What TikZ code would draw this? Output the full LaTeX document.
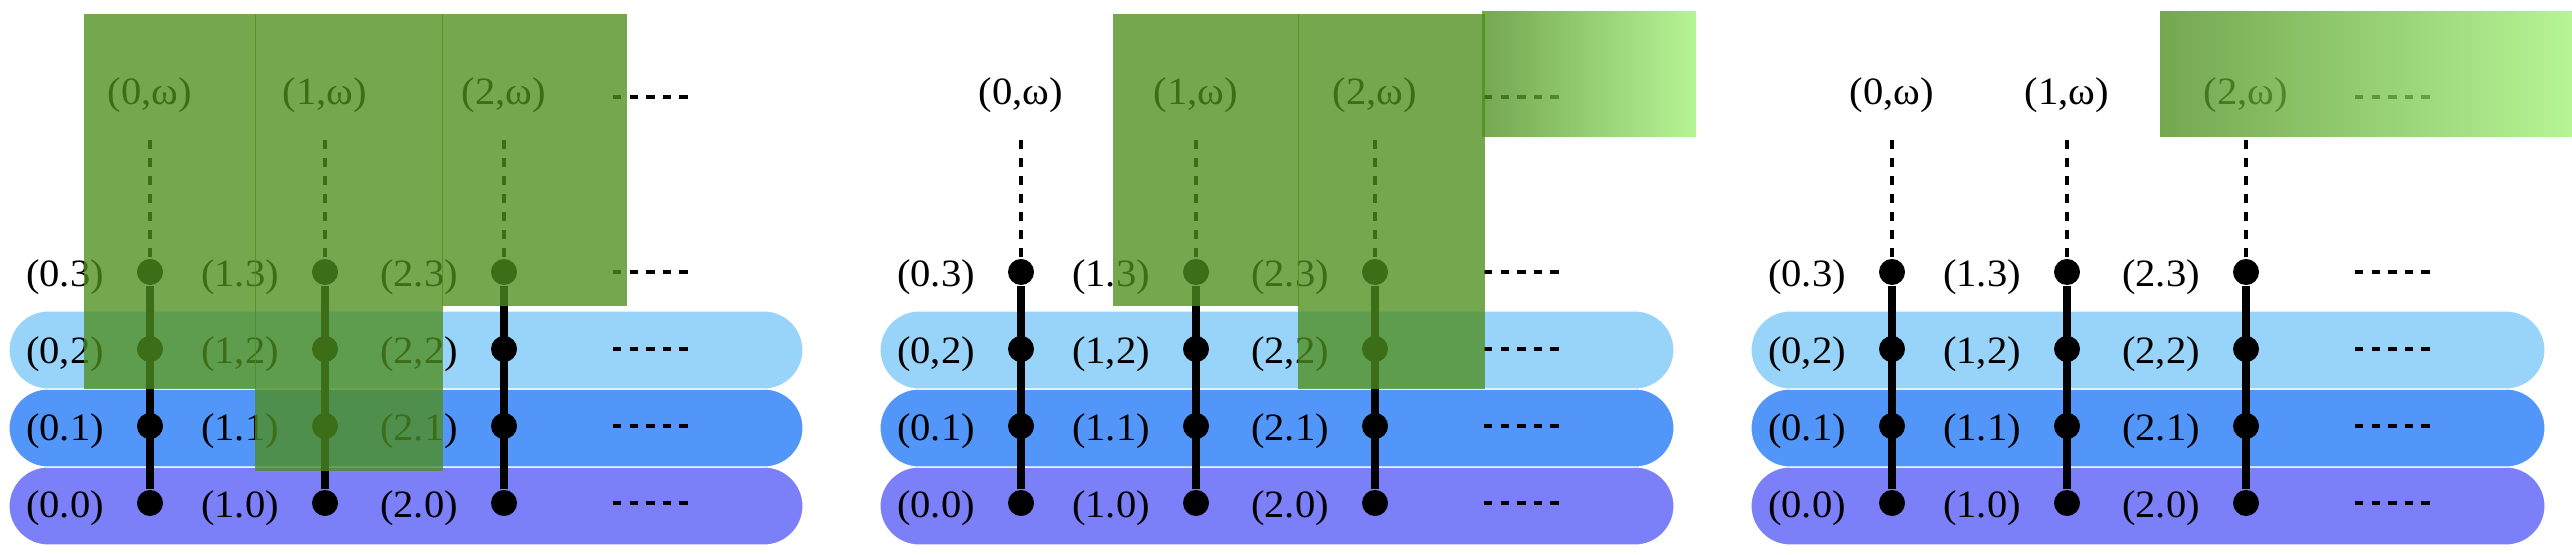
\documentclass[tikz,border=0pt]{standalone}
\usepackage{fontspec}
\setmainfont{Liberation Serif}[FakeStretch=1.05]
\usepackage{xcolor}
\usepackage{tikz}

\definecolor{rowtop}{RGB}{152,212,250}
\definecolor{rowmid}{RGB}{83,150,249}
\definecolor{rowlow}{RGB}{124,128,248}
\definecolor{leaf}{RGB}{78,142,30}
\definecolor{leaflight}{RGB}{161,242,121}

\tikzset{
  band/.style={draw=white,line width=0.3pt,rounded corners=0.39cm},
  vertex/.style={circle,fill=black,inner sep=0pt,minimum size=0.26cm},
  lbl/.style={font=\fontsize{11}{13}\selectfont,anchor=base,inner sep=0pt},
  rail/.style={line width=0.08cm},
  limit/.style={line width=0.045cm,dash pattern=on 0.09cm off 0.09cm,shorten <=0.26cm},
  etc/.style={line width=0.04cm,dash pattern=on 0.083cm off 0.083cm},
  cover/.style={fill=leaf,fill opacity=0.78},
  fade/.style={left color=leaf,right color=leaflight,fill opacity=0.78}
}

\begin{document}
\begin{tikzpicture}[x=0.01cm,y=-0.01cm]
  \useasboundingbox (0,0) rectangle (2572,555);
  \foreach \p/\dx in {a/0,b/871,c/1742}{
    % the three coloured rows
    \filldraw[band,fill=rowlow] (\dx+9,467) rectangle (\dx+803,545);
    \filldraw[band,fill=rowmid] (\dx+9,389) rectangle (\dx+803,467);
    \filldraw[band,fill=rowtop] (\dx+9,311) rectangle (\dx+803,389);
    \foreach \c/\cx in {0/150,1/325,2/504}{
      \foreach \r/\ry/\s in {0/503/.,1/426/.,2/349/{,},3/272/.}{
        \node[vertex] (v-\p-\c-\r) at (\dx+\cx,\ry) {};
        \node[lbl] at (\dx+\cx-85,\ry+15) {(\c\s\r)};
      }
      \node[lbl] (w-\p-\c) at (\dx+\cx,105) {(\c,ω)};
      \draw[rail] (v-\p-\c-0) -- (v-\p-\c-3);
      \draw[limit] (w-\p-\c) -- (v-\p-\c-3);
    }
    \foreach \r/\ry in {w/97,3/272,2/349,1/426,0/503}{
      \coordinate (e-\p-\r) at (\dx+613,\ry);
      \draw[etc] (e-\p-\r) -- ++(79,0);
    }
  }
  % green blocks on top
  \fill[cover] (84,14) rectangle (256,389);
  \fill[cover] (255,14) rectangle (443,471);
  \fill[cover] (442,14) rectangle (627,306);
  \fill[cover] (1113,14) rectangle (1299,306);
  \fill[cover] (1298,14) rectangle (1485,389);
  \shade[fade] (1482,12) rectangle (1696,137);
  \shade[fade] (2160,12) rectangle (2572,137);
\end{tikzpicture}
\end{document}
